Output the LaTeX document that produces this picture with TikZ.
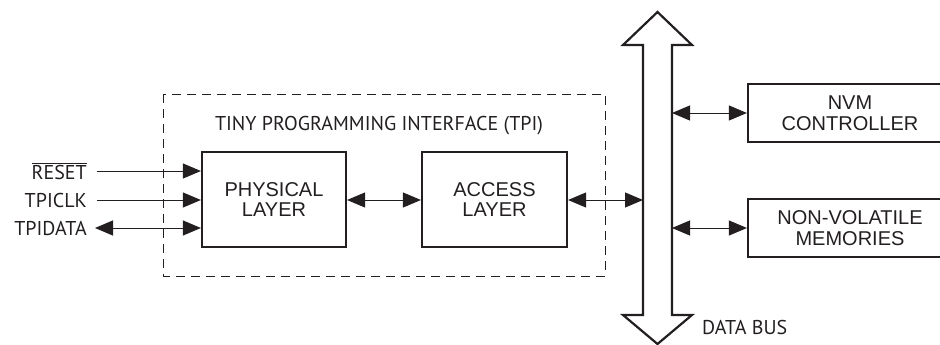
\documentclass[tikz,border=0pt]{standalone}
\usepackage{fontspec}
\setmainfont{Liberation Sans}
\newfontfamily\lblfont{PT Sans}
\usetikzlibrary{arrows.meta}
\definecolor{ink}{HTML}{231F20}
\begin{document}
\begin{tikzpicture}[x=1pt,y=-1pt, every node/.style={text=ink},
  blk/.style={draw=ink, line width=2.2pt, inner sep=0pt, align=center,
    font=\fontsize{20}{20}\selectfont},
  lbl/.style={inner sep=0pt, font=\lblfont\fontsize{20}{20}\selectfont},
  conn/.style={draw=ink, line width=1pt, {Triangle[length=18pt,width=15pt]}-{Triangle[length=18pt,width=15pt]}},
  oneway/.style={draw=ink, line width=1pt, -{Triangle[length=18pt,width=15pt]}},
  tpibox/.style={draw=ink, line width=1pt, dash pattern=on 9pt off 6pt},
  busarrow/.style={draw=ink, line width=2.2pt, fill=white, line join=miter}]
\clip (0,0) rectangle (940,345);
\useasboundingbox (0,0) rectangle (940,345);

% dashed TPI frame
\draw[tpibox] (163,94) rectangle (605,276);
\node[lbl] (tpilbl) at (379,126) {TINY PROGRAMMING INTERFACE (TPI)};

% blocks
\node[blk, minimum width=144pt, minimum height=95pt] (phys) at (274,199.5) {PHYSICAL\\LAYER};
\node[blk, minimum width=145pt, minimum height=95pt] (acc) at (494.5,199.5) {ACCESS\\LAYER};
\node[blk, minimum width=204pt, minimum height=58pt, font=\fontsize{20}{21}\selectfont] (nvm) at (850,113) {NVM\\CONTROLLER};
\node[blk, minimum width=204pt, minimum height=58pt, font=\fontsize{20}{21}\selectfont] (mem) at (850,228) {NON-VOLATILE\\MEMORIES};

% data bus (double-headed wide arrow)
\coordinate (bustop) at (657.5,12);
\coordinate (busbot) at (657.5,344);
\draw[busarrow] (bustop) -- (692,45) -- (672,45) -- (672,315) -- (692,315) -- (busbot)
  -- (623,315) -- (643,315) -- (643,45) -- (623,45) -- cycle;
\node[lbl, anchor=west] (buslbl) at (702,327) {DATA BUS};

\coordinate (busL) at (643,200);
\coordinate (busR1) at (672,113);
\coordinate (busR2) at (672,228);

% connectors
\draw[conn] (phys.east |- 0,200) -- (acc.west |- 0,200);
\draw[conn] (acc.east |- busL) -- (busL);
\draw[conn] (busR1) -- (nvm.west |- busR1);
\draw[conn] (busR2) -- (mem.west |- busR2);

% inputs
\coordinate (in1) at (97,171);
\coordinate (in2) at (97,200);
\coordinate (in3) at (95,228);
\node[lbl, anchor=east] (lreset) at (87,171) {$\overline{\mbox{RESET}}$};
\node[lbl, anchor=east] (lclk) at (87,200) {TPICLK};
\node[lbl, anchor=east] (ldata) at (87,228) {TPIDATA};
\draw[oneway] (in1) -- (phys.west |- in1);
\draw[oneway] (in2) -- (phys.west |- in2);
\draw[conn] (in3) -- (phys.west |- in3);
\end{tikzpicture}
\end{document}
